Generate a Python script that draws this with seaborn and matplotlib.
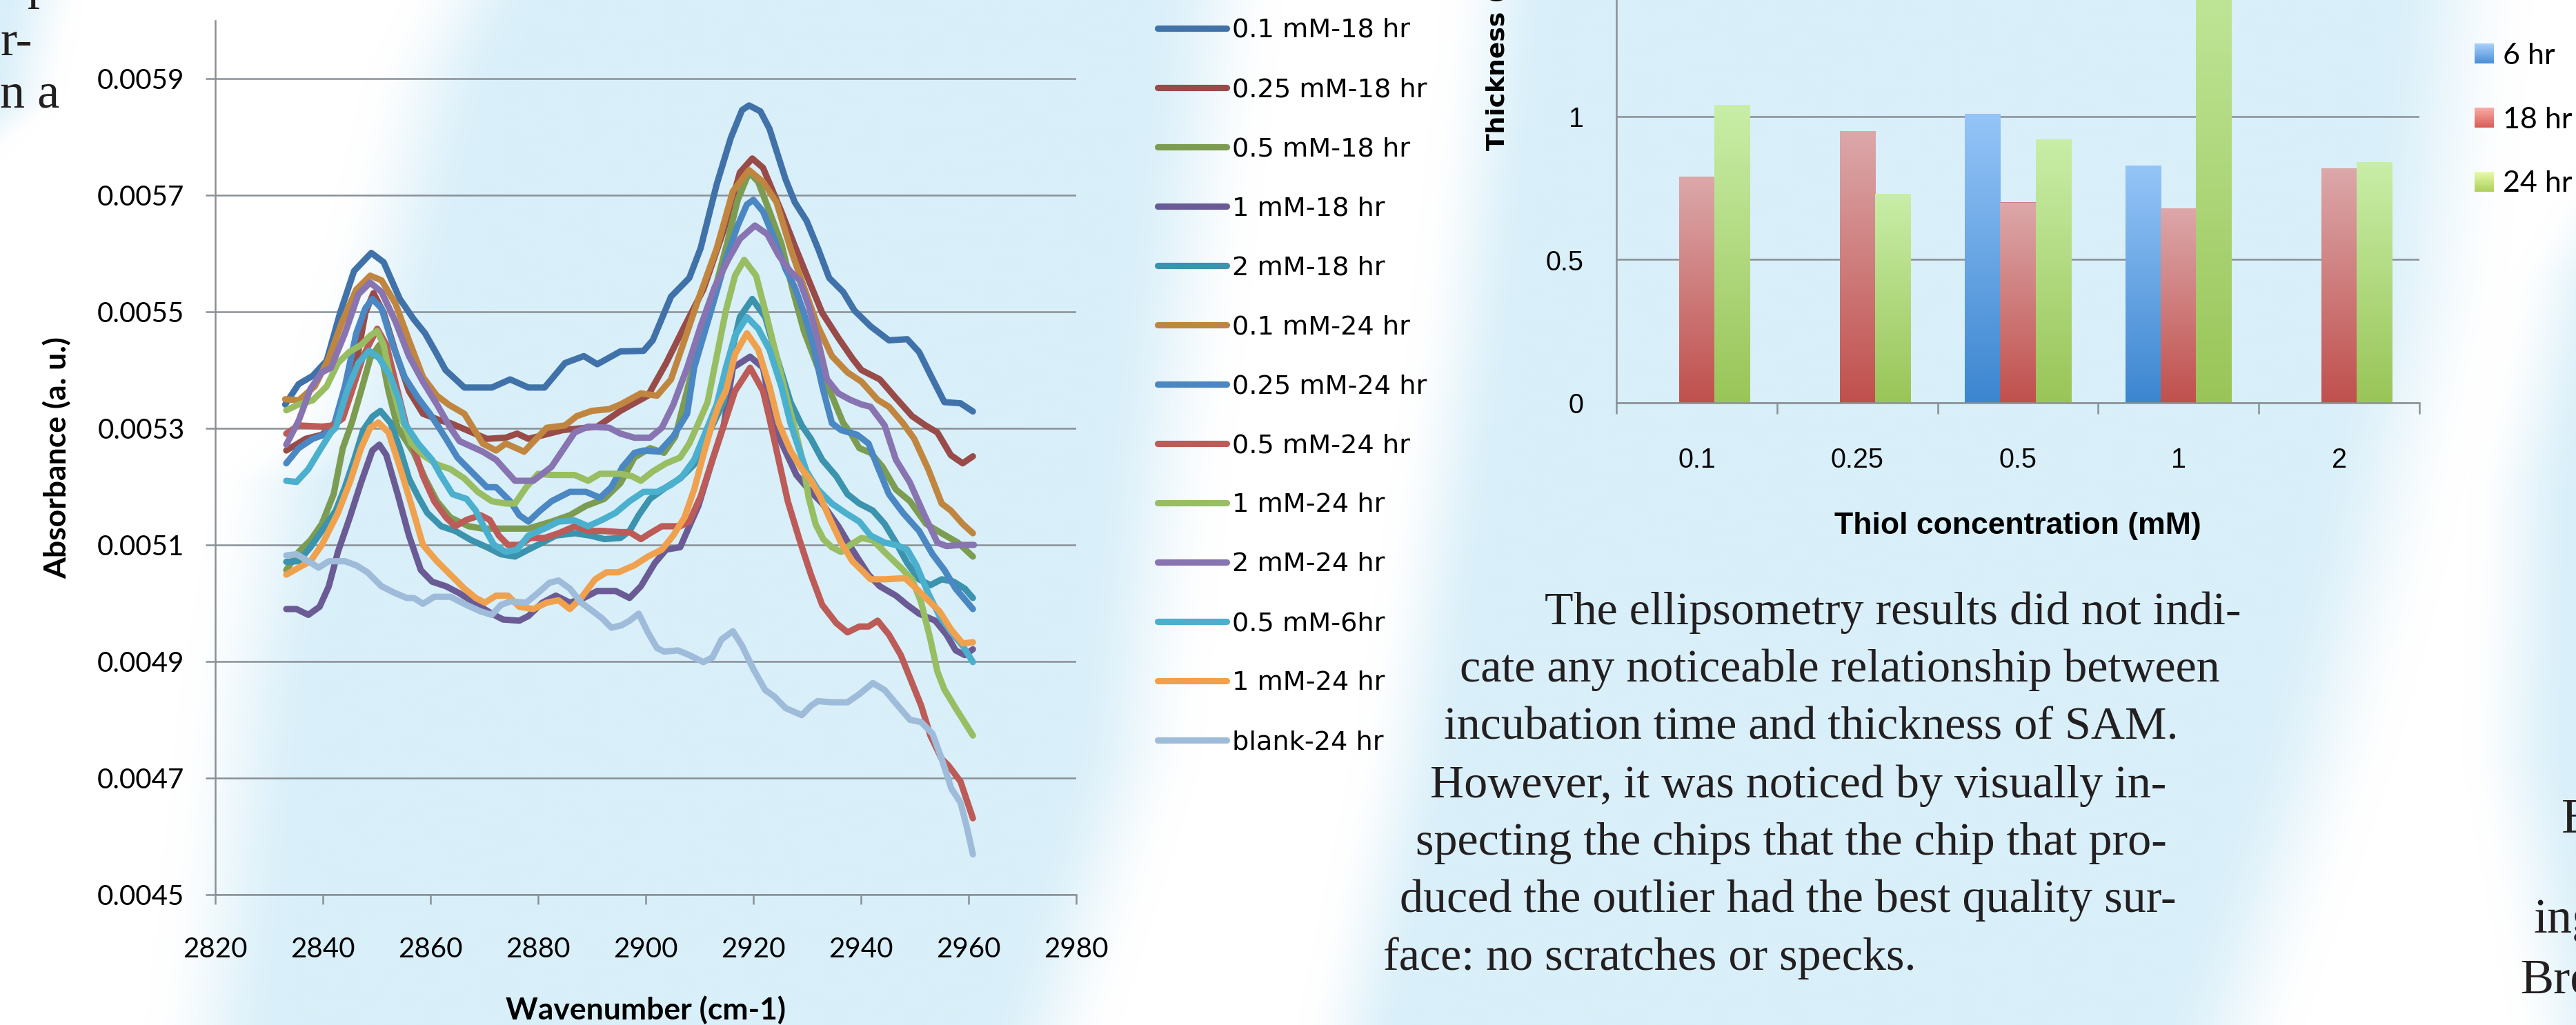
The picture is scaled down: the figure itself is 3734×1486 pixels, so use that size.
import numpy as np
import pandas as pd
import matplotlib
matplotlib.use("Agg")
import matplotlib.pyplot as plt
import seaborn as sns
from matplotlib import font_manager
from matplotlib.patches import Rectangle, Patch
from matplotlib.legend_handler import HandlerBase


def has_font(name):
    try:
        font_manager.findfont(font_manager.FontProperties(family=name), fallback_to_default=False)
        return True
    except Exception:
        return False


NARROW = "Liberation Sans Narrow" if has_font("Liberation Sans Narrow") else "Liberation Sans"
NARROW_SCALE = 1.0 if NARROW == "Liberation Sans Narrow" else 0.89
SANS = "Lato" if has_font("Lato") else "DejaVu Sans"

# ---------------- IR spectra (absorbance in units of 1e-4) ----------------
labels = ["0.1 mM-18 hr", "0.25 mM-18 hr", "0.5 mM-18 hr", "1 mM-18 hr", "2 mM-18 hr",
          "0.1 mM-24 hr", "0.25 mM-24 hr", "0.5 mM-24 hr", "1 mM-24 hr", "2 mM-24 hr",
          "0.5 mM-6hr", "1 mM-24 hr", "blank-24 hr"]
line_colors = ["#4072A9", "#984B48", "#7C9C52", "#6A5B95", "#3B93AE", "#C08640", "#4A87C3",
               "#BC5B57", "#98BD62", "#8774B0", "#4BAFCE", "#EFA14E", "#9FBBDA"]

wn_01_18 = [2833.0, 2835.5, 2838.1, 2840.7, 2843.2, 2845.8, 2849.0, 2851.3, 2854.3, 2856.9, 2859.0, 2861.2,
            2862.8, 2866.3, 2871.4, 2874.8, 2878.2, 2881.2, 2885.0, 2888.5, 2891.0, 2895.3, 2899.6, 2901.3,
            2904.7, 2908.1, 2910.2, 2913.2, 2915.8, 2917.9, 2919.2, 2921.3, 2923.0, 2926.0, 2927.7, 2929.9,
            2932.0, 2934.1, 2936.7, 2938.8, 2941.8, 2945.2, 2948.6, 2950.8, 2952.9, 2955.5, 2958.5, 2960.8]
ab_01_18 = [53.41, 53.76, 53.90, 54.16, 54.98, 55.70, 56.01, 55.85, 55.22, 54.87, 54.63, 54.27,
            54.00, 53.70, 53.70, 53.84, 53.70, 53.70, 54.12, 54.24, 54.10, 54.32, 54.33, 54.51,
            55.26, 55.58, 56.09, 57.19, 57.98, 58.46, 58.54, 58.44, 58.14, 57.27, 56.88, 56.56,
            56.09, 55.58, 55.34, 55.02, 54.75, 54.51, 54.53, 54.31, 53.92, 53.45, 53.43, 53.29]

wn_025_18 = [2833.2, 2836.8, 2839.8, 2842.8, 2844.1, 2846.2, 2847.9, 2849.4, 2851.3, 2853.5, 2856.0, 2858.6,
             2862.0, 2863.7, 2870.5, 2874.0, 2876.1, 2878.2, 2884.6, 2891.0, 2895.3, 2900.4, 2903.8, 2907.2,
             2910.7, 2914.5, 2917.5, 2919.8, 2921.8, 2925.2, 2927.7, 2930.3, 2932.8, 2935.8, 2938.4, 2940.1,
             2943.5, 2946.5, 2949.5, 2952.0, 2954.2, 2956.7, 2958.9, 2960.8]
ab_025_18 = [52.62, 52.82, 52.89, 53.13, 53.30, 54.12, 54.98, 55.32, 54.98, 54.31, 53.64, 53.25,
             53.13, 53.09, 52.82, 52.84, 52.91, 52.82, 52.97, 53.03, 53.30, 53.56, 54.12, 54.75,
             55.38, 56.40, 57.39, 57.63, 57.47, 56.72, 56.13, 55.54, 54.98, 54.55, 54.20, 54.00,
             53.84, 53.52, 53.21, 53.05, 52.93, 52.54, 52.40, 52.52]

wn_05_18 = [2833.2, 2835.5, 2837.7, 2839.8, 2842.0, 2843.7, 2845.4, 2847.1, 2848.8, 2850.5, 2852.2, 2853.9,
            2856.9, 2859.0, 2861.2, 2863.7, 2867.1, 2869.7, 2874.0, 2878.2, 2882.5, 2885.9, 2888.9, 2892.3,
            2895.3, 2897.9, 2900.8, 2903.4, 2905.5, 2909.0, 2912.4, 2915.0, 2917.1, 2919.2, 2920.9, 2923.0,
            2925.2, 2927.3, 2929.4, 2932.0, 2934.6, 2936.7, 2938.0, 2939.7, 2941.8, 2944.0, 2946.5, 2949.1,
            2952.1, 2955.0, 2958.0, 2960.8]
ab_05_18 = [50.57, 50.88, 51.08, 51.36, 51.87, 52.66, 53.10, 53.64, 54.20, 54.43, 53.64, 53.01,
            52.58, 52.14, 51.75, 51.47, 51.32, 51.28, 51.28, 51.28, 51.40, 51.51, 51.67, 51.79,
            52.06, 52.50, 52.66, 52.58, 52.86, 54.12, 55.22, 56.13, 56.92, 57.39, 57.23, 56.72,
            56.17, 55.38, 54.67, 54.04, 53.56, 53.09, 52.93, 52.66, 52.58, 52.34, 51.95, 51.75,
            51.36, 51.20, 51.04, 50.80]

wn_1_18 = [2833.2, 2835.1, 2837.3, 2839.4, 2841.1, 2842.8, 2845.0, 2847.1, 2849.2, 2850.5, 2851.8, 2853.9,
           2856.0, 2858.2, 2860.3, 2862.9, 2865.4, 2868.8, 2871.4, 2873.5, 2876.5, 2878.2, 2880.8, 2883.3,
           2885.9, 2888.5, 2891.0, 2894.4, 2897.0, 2899.1, 2901.7, 2903.8, 2906.4, 2908.1, 2909.8, 2912.4,
           2914.5, 2916.2, 2919.4, 2921.8, 2923.9, 2926.0, 2928.0, 2930.3, 2932.8, 2935.8, 2938.4, 2941.4,
           2943.5, 2946.5, 2948.6, 2950.8, 2953.8, 2955.9, 2957.6, 2959.3, 2960.8]
ab_1_18 = [49.90, 49.90, 49.80, 49.94, 50.29, 50.88, 51.47, 52.07, 52.62, 52.72, 52.54, 51.87,
           51.16, 50.57, 50.37, 50.29, 50.17, 49.97, 49.82, 49.72, 49.70, 49.78, 50.01, 50.13,
           50.01, 50.09, 50.21, 50.21, 50.09, 50.29, 50.69, 50.92, 50.96, 51.32, 51.67, 52.46,
           53.05, 54.04, 54.23, 54.04, 53.01, 52.60, 52.20, 51.95, 51.71, 51.32, 50.92, 50.49,
           50.29, 50.13, 49.97, 49.82, 49.70, 49.46, 49.19, 49.11, 49.21]

wn_2_18 = [2833.2, 2835.5, 2837.7, 2839.8, 2842.4, 2844.1, 2845.8, 2847.5, 2849.2, 2850.7, 2852.6, 2854.3,
           2856.0, 2857.7, 2859.4, 2862.0, 2864.6, 2867.6, 2870.5, 2873.1, 2875.7, 2878.2, 2880.8, 2883.3,
           2886.8, 2889.7, 2892.3, 2895.3, 2897.0, 2898.7, 2900.8, 2903.8, 2906.4, 2909.0, 2910.7, 2912.4,
           2914.5, 2915.8, 2917.5, 2919.8, 2922.2, 2924.3, 2926.9, 2929.0, 2930.7, 2932.8, 2935.4, 2937.5,
           2939.7, 2942.2, 2944.4, 2946.5, 2948.6, 2950.8, 2952.9, 2955.0, 2957.2, 2959.3, 2960.8]
ab_2_18 = [50.71, 50.72, 50.96, 51.24, 51.59, 51.99, 52.46, 52.97, 53.20, 53.30, 53.09, 52.66,
           52.14, 51.83, 51.55, 51.32, 51.24, 51.08, 50.96, 50.84, 50.80, 50.92, 51.04, 51.16,
           51.20, 51.16, 51.10, 51.12, 51.24, 51.51, 51.79, 51.99, 52.14, 52.38, 52.70, 53.05,
           53.45, 54.24, 54.91, 55.22, 54.91, 54.24, 53.45, 53.05, 52.82, 52.46, 52.18, 51.87,
           51.71, 51.59, 51.36, 51.04, 50.69, 50.41, 50.31, 50.41, 50.37, 50.25, 50.09]

wn_01_24 = [2833.0, 2835.5, 2838.5, 2841.1, 2843.6, 2846.2, 2848.8, 2850.9, 2853.5, 2856.0, 2858.6, 2861.2,
            2863.5, 2866.3, 2869.7, 2872.2, 2874.0, 2877.4, 2881.6, 2885.0, 2887.2, 2890.0, 2893.2, 2895.3,
            2899.1, 2902.1, 2904.7, 2907.2, 2909.8, 2913.2, 2916.2, 2919.2, 2921.8, 2924.3, 2926.9, 2929.4,
            2932.0, 2934.6, 2937.5, 2940.1, 2943.1, 2945.2, 2947.8, 2949.9, 2952.5, 2955.0, 2956.7, 2958.9,
            2960.8]
ab_01_24 = [53.50, 53.48, 53.72, 54.20, 54.83, 55.38, 55.62, 55.54, 55.14, 54.51, 53.88, 53.56,
            53.40, 53.25, 52.74, 52.62, 52.74, 52.60, 53.01, 53.05, 53.21, 53.30, 53.33, 53.41,
            53.60, 53.56, 53.84, 54.51, 55.22, 56.09, 57.07, 57.43, 57.23, 56.88, 56.09, 55.42,
            54.75, 54.24, 53.96, 53.80, 53.49, 53.37, 53.09, 52.82, 52.30, 51.71, 51.59, 51.36,
            51.20]

wn_025_24 = [2833.2, 2835.5, 2838.1, 2840.2, 2842.2, 2844.1, 2846.2, 2847.9, 2849.2, 2850.9, 2853.0, 2855.2,
             2857.7, 2859.9, 2861.6, 2862.9, 2865.0, 2868.0, 2870.5, 2872.2, 2874.8, 2876.5, 2878.2, 2880.4,
             2882.5, 2885.9, 2888.9, 2891.5, 2893.6, 2895.7, 2897.9, 2899.6, 2902.5, 2905.1, 2907.7, 2909.0,
             2912.4, 2915.0, 2917.1, 2918.8, 2920.0, 2921.8, 2923.9, 2926.0, 2927.7, 2929.4, 2931.1, 2932.8,
             2934.6, 2936.3, 2939.3, 2941.4, 2943.1, 2945.2, 2947.8, 2950.8, 2953.3, 2955.5, 2957.6, 2960.8]
ab_025_24 = [52.40, 52.66, 52.82, 52.89, 53.10, 53.72, 54.63, 55.06, 55.22, 55.06, 54.43, 53.88,
             53.52, 53.25, 53.01, 52.82, 52.50, 52.22, 51.99, 51.99, 51.75, 51.51, 51.40, 51.59,
             51.75, 51.91, 51.91, 51.81, 51.99, 52.34, 52.58, 52.62, 52.60, 52.86, 53.25, 54.04,
             55.10, 55.93, 56.48, 56.84, 56.92, 56.72, 56.25, 55.73, 55.42, 54.98, 54.43, 53.72,
             53.09, 52.97, 52.89, 52.74, 52.34, 51.87, 51.55, 51.24, 50.84, 50.57, 50.25, 49.90]

wn_05_24 = [2833.2, 2835.5, 2839.8, 2842.0, 2843.7, 2845.4, 2847.5, 2850.1, 2851.8, 2853.9, 2855.6, 2856.9,
            2858.6, 2860.7, 2862.9, 2864.6, 2866.7, 2869.3, 2871.0, 2872.7, 2874.4, 2876.5, 2878.6, 2881.2,
            2883.8, 2886.8, 2889.3, 2891.9, 2895.3, 2897.0, 2899.1, 2900.8, 2903.0, 2906.4, 2908.1, 2910.2,
            2912.4, 2914.5, 2916.6, 2919.4, 2921.8, 2923.0, 2924.7, 2926.4, 2928.6, 2930.7, 2932.8, 2935.4,
            2937.5, 2939.7, 2941.4, 2943.1, 2945.2, 2947.4, 2949.5, 2951.2, 2952.9, 2955.0, 2956.3, 2958.5,
            2960.8]
ab_05_24 = [52.91, 53.05, 53.03, 53.05, 53.17, 53.64, 54.24, 54.71, 54.43, 53.64, 53.01, 52.66,
            52.18, 51.75, 51.47, 51.32, 51.43, 51.51, 51.43, 51.16, 51.00, 51.00, 51.12, 51.12,
            51.20, 51.32, 51.24, 51.24, 51.22, 51.22, 51.10, 51.20, 51.32, 51.32, 51.40, 51.83,
            52.46, 53.05, 53.64, 54.04, 53.64, 53.17, 52.46, 51.75, 51.08, 50.49, 49.97, 49.66,
            49.50, 49.60, 49.60, 49.70, 49.46, 49.11, 48.63, 48.24, 47.73, 47.33, 47.21, 46.94,
            46.31]

wn_1_24a = [2833.2, 2835.5, 2838.1, 2840.7, 2842.8, 2844.9, 2847.1, 2848.8, 2850.1, 2851.3, 2852.6, 2854.3,
            2856.5, 2858.6, 2861.2, 2863.7, 2866.3, 2868.8, 2871.4, 2874.0, 2875.7, 2877.8, 2880.0, 2882.5,
            2886.8, 2889.3, 2891.5, 2895.3, 2897.4, 2899.1, 2901.3, 2903.8, 2906.4, 2908.1, 2909.8, 2911.5,
            2913.2, 2914.9, 2916.6, 2918.3, 2920.5, 2922.2, 2924.3, 2926.4, 2927.7, 2929.0, 2930.3, 2931.6,
            2933.0, 2934.6, 2936.3, 2938.0, 2940.1, 2942.2, 2944.8, 2947.4, 2949.5, 2951.2, 2952.9, 2954.2,
            2955.5, 2957.6, 2960.8]
ab_1_24a = [53.31, 53.41, 53.48, 53.72, 54.12, 54.31, 54.43, 54.59, 54.67, 54.43, 53.84, 53.25,
            52.74, 52.54, 52.38, 52.30, 52.14, 51.91, 51.75, 51.71, 51.71, 51.99, 52.22, 52.20,
            52.20, 52.10, 52.22, 52.22, 52.18, 52.10, 52.26, 52.40, 52.50, 52.74, 53.09, 53.45,
            54.24, 55.02, 55.62, 55.89, 55.62, 55.02, 54.24, 53.45, 53.01, 52.50, 51.80, 51.35,
            51.10, 50.96, 50.88, 51.00, 51.12, 51.08, 50.84, 50.61, 50.41, 50.01, 49.38, 48.83,
            48.52, 48.20, 47.73]

wn_2_24 = [2833.2, 2835.5, 2837.7, 2839.8, 2841.5, 2844.1, 2846.6, 2848.8, 2850.9, 2853.5, 2856.0, 2858.6,
           2861.2, 2863.7, 2865.4, 2869.7, 2872.2, 2875.7, 2879.1, 2882.5, 2886.8, 2889.3, 2893.2, 2895.3,
           2897.9, 2900.8, 2903.0, 2905.1, 2907.7, 2910.2, 2912.8, 2915.3, 2917.5, 2920.3, 2922.6, 2924.7,
           2926.9, 2928.6, 2930.3, 2932.0, 2933.7, 2935.8, 2938.0, 2940.1, 2941.8, 2944.4, 2946.5, 2949.1,
           2951.6, 2954.2, 2955.9, 2958.5, 2961.0]
ab_2_24 = [52.72, 53.13, 53.68, 53.96, 54.04, 54.63, 55.30, 55.50, 55.34, 54.83, 54.24, 53.80,
           53.41, 53.01, 52.78, 52.60, 52.46, 52.10, 52.10, 52.34, 52.93, 53.03, 53.01, 52.91,
           52.84, 52.84, 53.01, 53.40, 54.04, 54.75, 55.42, 55.89, 56.25, 56.48, 56.33, 55.97,
           55.69, 55.54, 55.10, 54.51, 53.84, 53.60, 53.49, 53.41, 53.37, 53.05, 52.46, 52.07,
           51.55, 51.04, 50.98, 51.00, 51.00]

wn_05_6 = [2833.2, 2835.1, 2837.3, 2839.4, 2841.5, 2842.4, 2844.5, 2846.6, 2848.6, 2850.5, 2852.6, 2854.3,
           2855.2, 2857.7, 2860.3, 2862.0, 2864.1, 2866.7, 2868.4, 2870.1, 2871.8, 2874.0, 2876.1, 2878.2,
           2881.2, 2883.8, 2886.8, 2889.3, 2891.9, 2894.4, 2897.0, 2899.6, 2902.1, 2904.7, 2906.8, 2909.0,
           2911.1, 2913.2, 2914.9, 2916.6, 2918.8, 2920.9, 2923.0, 2925.2, 2926.9, 2927.7, 2929.9, 2932.0,
           2934.6, 2937.1, 2939.7, 2941.8, 2944.4, 2946.5, 2948.6, 2950.3, 2952.5, 2954.6, 2956.8, 2958.9,
           2960.8]
ab_05_6 = [52.10, 52.08, 52.30, 52.62, 52.93, 53.01, 53.64, 54.12, 54.33, 54.20, 53.88, 53.45,
           53.09, 52.74, 52.46, 52.18, 51.87, 51.79, 51.59, 51.28, 51.00, 50.88, 50.92, 51.16,
           51.28, 51.40, 51.42, 51.32, 51.43, 51.55, 51.75, 51.91, 51.91, 52.03, 52.18, 52.46,
           52.93, 53.41, 54.04, 54.59, 54.91, 54.71, 54.35, 53.72, 53.09, 52.86, 52.26, 51.95,
           51.71, 51.55, 51.40, 51.16, 51.04, 51.00, 50.92, 50.65, 50.17, 49.78, 49.50, 49.27,
           48.99]

wn_1_24b = [2833.2, 2835.5, 2837.7, 2839.8, 2842.8, 2845.0, 2847.1, 2848.8, 2850.3, 2852.2, 2854.3, 2856.5,
            2858.6, 2861.2, 2863.7, 2866.3, 2868.4, 2870.1, 2872.2, 2874.4, 2876.5, 2879.1, 2881.6, 2883.8,
            2885.9, 2888.0, 2890.6, 2892.7, 2894.9, 2897.9, 2900.4, 2903.0, 2905.1, 2907.2, 2909.0, 2910.7,
            2912.4, 2913.6, 2914.9, 2916.6, 2918.8, 2920.9, 2923.0, 2924.7, 2926.9, 2929.0, 2930.7, 2932.4,
            2934.1, 2936.3, 2938.4, 2940.1, 2941.8, 2944.4, 2948.2, 2950.3, 2952.5, 2954.6, 2956.8, 2958.9,
            2960.8]
ab_1_24b = [50.49, 50.61, 50.72, 51.00, 51.55, 52.07, 52.66, 53.01, 53.10, 52.93, 52.34, 51.67,
            51.00, 50.72, 50.49, 50.25, 50.09, 50.01, 50.13, 50.13, 49.94, 49.90, 50.01, 50.05,
            49.90, 50.09, 50.41, 50.53, 50.53, 50.65, 50.80, 50.92, 51.16, 51.47, 51.95, 52.54,
            53.09, 53.40, 53.64, 54.27, 54.63, 54.35, 53.72, 53.09, 52.62, 52.30, 52.11, 51.83,
            51.47, 51.04, 50.72, 50.57, 50.41, 50.41, 50.43, 50.25, 50.05, 49.86, 49.54, 49.31,
            49.33]

wn_blank = [2833.2, 2835.1, 2837.3, 2839.2, 2841.1, 2844.1, 2846.2, 2848.3, 2850.9, 2853.5, 2855.6, 2856.9,
            2858.6, 2860.7, 2863.7, 2866.7, 2869.3, 2871.4, 2873.1, 2874.8, 2877.8, 2879.9, 2882.1, 2883.8,
            2885.9, 2888.0, 2890.2, 2891.9, 2893.6, 2895.5, 2897.0, 2898.7, 2900.4, 2902.1, 2903.4, 2906.0,
            2908.1, 2910.7, 2912.4, 2914.1, 2916.2, 2917.9, 2920.0, 2922.2, 2923.9, 2926.0, 2929.0, 2930.7,
            2932.0, 2934.6, 2937.5, 2939.7, 2942.2, 2944.4, 2946.5, 2949.1, 2951.2, 2953.3, 2955.0, 2956.8,
            2958.5, 2959.7, 2960.8]
ab_blank = [50.82, 50.84, 50.72, 50.61, 50.72, 50.72, 50.65, 50.53, 50.29, 50.17, 50.09, 50.09,
            49.99, 50.11, 50.11, 49.97, 49.86, 49.80, 49.97, 50.03, 50.01, 50.17, 50.35, 50.39,
            50.25, 50.01, 49.86, 49.74, 49.58, 49.62, 49.70, 49.82, 49.50, 49.23, 49.17, 49.19,
            49.11, 48.99, 49.07, 49.38, 49.52, 49.27, 48.87, 48.51, 48.40, 48.20, 48.08, 48.24,
            48.32, 48.30, 48.30, 48.44, 48.63, 48.51, 48.28, 48.00, 47.96, 47.76, 47.33, 46.82,
            46.58, 46.15, 45.69]

spectra_wn = [wn_01_18, wn_025_18, wn_05_18, wn_1_18, wn_2_18, wn_01_24, wn_025_24,
              wn_05_24, wn_1_24a, wn_2_24, wn_05_6, wn_1_24b, wn_blank]
spectra_ab = [ab_01_18, ab_025_18, ab_05_18, ab_1_18, ab_2_18, ab_01_24, ab_025_24,
              ab_05_24, ab_1_24a, ab_2_24, ab_05_6, ab_1_24b, ab_blank]

# ---------------- ellipsometry thickness ----------------
conc_labels = ["0.1", "0.25", "0.5", "1", "2"]
time_labels = ["6 hr", "18 hr", "24 hr"]
thick_6hr = [np.nan, np.nan, 1.01, 0.83, np.nan]
thick_18hr = [0.79, 0.95, 0.70, 0.68, 0.82]
thick_24hr = [1.04, 0.73, 0.92, 1.80, 0.84]

paragraph = ["The ellipsometry results did not indi-",
             "cate any noticeable relationship between",
             "incubation time and thickness of SAM.",
             "However, it was noticed by visually in-",
             "specting the chips that the chip that pro-",
             "duced the outlier had the best quality sur-",
             "face: no scratches or specks."]

W, H = 3734, 1486
GRID = "#899096"
fig = plt.figure(figsize=(W / 100, H / 100), dpi=100)

# ---------------- poster background ----------------
yy, xx = np.mgrid[0:H:4, 0:W:4].astype(float)


def smooth(t):
    t = np.clip(t, 0, 1)
    return t * t * (3 - 2 * t)


def band(ysl, ls, sl, ysr, rs, sr):
    left = np.interp(yy, ysl, ls)
    right = np.interp(yy, ysr, rs)
    return smooth((xx - left) / sl + 0.5) * smooth((right - xx) / sr + 0.5)


wgt = np.maximum.reduce([
    band([0, 100, 620, 700, 1000, 1400, 1486], [680, 630, 500, 410, 360, 320, 310], 200,
         [0, 700, 1100, 1486], [1760, 1680, 1640, 1520], 200),
    band([0, 500, 800, 1100, 1486], [2170, 2120, 2080, 2040, 1960], 160,
         [0, 434, 800, 1100, 1486], [3560, 3520, 3440, 3360, 3230], 220),
    band([0, 400, 700, 1100, 1486], [3950, 3720, 3660, 3650, 3720], 160,
         [0, 1486], [6000, 6000], 10),
    band([0, 1486], [-2000, -2000], 10, [0, 150, 300], [60, 30, -150], 120),
])
blue = np.array([217, 239, 249]) / 255.0
bg = 1 - wgt[..., None] * (1 - blue)
bgax = fig.add_axes([0, 0, 1, 1], zorder=-10)
bgax.imshow(bg, extent=[0, W, H, 0], aspect="auto", interpolation="bilinear")
bgax.set_xlim(0, W)
bgax.set_ylim(H, 0)
bgax.axis("off")

# ---------------- left: IR spectra ----------------
ax1 = fig.add_axes([312 / W, 1 - 1297 / H, 1248 / W, 1267.5 / H])
ax1.patch.set_alpha(0)
for wn, ab, col in zip(spectra_wn, spectra_ab, line_colors):
    sns.lineplot(x=wn, y=np.array(ab) * 1e-4, ax=ax1, color=col, linewidth=6.6,
                 estimator=None, sort=False, legend=False,
                 solid_capstyle="round", solid_joinstyle="round")

ax1.set_xlim(2820, 2980)
ax1.set_ylim(0.0045, 0.0060)
ax1.set_xticks(range(2820, 2981, 20))
yt = np.arange(0.0045, 0.00591, 0.0002)
ax1.set_yticks(yt)
ax1.set_yticklabels([f"{v:.4f}" for v in yt])
ax1.set_axisbelow(True)
ax1.grid(axis="y", color=GRID, linewidth=1.8)
for s in ["top", "right"]:
    ax1.spines[s].set_visible(False)
for s in ["left", "bottom"]:
    ax1.spines[s].set_color(GRID)
    ax1.spines[s].set_linewidth(1.8)
ax1.tick_params(axis="both", direction="out", length=10, width=1.8, color=GRID, labelsize=29)
ax1.tick_params(axis="x", pad=34)
ax1.tick_params(axis="y", pad=22)
for t in ax1.get_xticklabels() + ax1.get_yticklabels():
    t.set_family(SANS)
ax1.set_xlabel("Wavenumber (cm-1)", family=SANS, fontsize=32, fontweight="bold")
ax1.set_ylabel("Absorbance (a. u.)", family=SANS, fontsize=32, fontweight="bold")
ax1.xaxis.set_label_coords(0.5, -0.1318)
ax1.xaxis.label.set_va("center")
ax1.yaxis.set_label_coords(-0.1843, 0.5)
ax1.yaxis.label.set_va("center")

fig.legend(ax1.get_lines()[:len(labels)], labels, loc="upper left",
           bbox_to_anchor=(1678 / W, 1 - 26 / H), frameon=False, borderpad=0, borderaxespad=0,
           handlelength=2.63, handletextpad=0.2, labelspacing=1.31,
           prop={"family": "DejaVu Sans", "size": 27.5})

# ---------------- right: thickness bars ----------------
bar_df = pd.DataFrame({
    "conc": conc_labels * 3,
    "time": [t for t in time_labels for _ in conc_labels],
    "thickness": thick_6hr + thick_18hr + thick_24hr,
})
ax2 = fig.add_axes([2343 / W, 1 - 584 / H, 1164 / W, 1037.5 / H])
ax2.patch.set_alpha(0)
bar_mid = {"6 hr": "#6AA6E6", "18 hr": "#CE7F7D", "24 hr": "#B3DA82"}
sns.barplot(data=bar_df, x="conc", y="thickness", hue="time", order=conc_labels,
            hue_order=time_labels, palette=bar_mid, width=0.66, gap=0, saturation=1,
            errorbar=None, legend=False, ax=ax2)

bar_grad = {"6 hr": ("#95C5F8", "#3C86D0"), "18 hr": ("#DCA8AA", "#C0504D"),
            "24 hr": ("#C8EEA7", "#99C558")}
tt = np.linspace(0, 1, 200)[:, None, None]
for cont, tl in zip(ax2.containers, time_labels):
    top = np.array(matplotlib.colors.to_rgb(bar_grad[tl][0]))
    bot = np.array(matplotlib.colors.to_rgb(bar_grad[tl][1]))
    img = top * (1 - tt) + bot * tt
    for bar in cont:
        h = bar.get_height()
        if not np.isfinite(h) or h <= 0:
            continue
        x0 = bar.get_x()
        im = ax2.imshow(img, extent=[x0, x0 + bar.get_width(), 0, h], origin="upper",
                        aspect="auto", interpolation="bilinear", zorder=bar.get_zorder() + 0.1)
        im.set_clip_path(bar)

ax2.set_xlim(-0.5, 4.5)
ax2.set_ylim(0, 2.5)
ax2.set_yticks(np.arange(0, 2.51, 0.5))
ax2.set_yticklabels([f"{v:g}" for v in np.arange(0, 2.51, 0.5)])
ax2.set_xticks(np.arange(-0.5, 4.6, 1), minor=True)
ax2.set_axisbelow(True)
ax2.grid(axis="y", color=GRID, linewidth=1.8)
ax2.grid(axis="x", visible=False)
for s in ["top", "right"]:
    ax2.spines[s].set_visible(False)
for s in ["left", "bottom"]:
    ax2.spines[s].set_color(GRID)
    ax2.spines[s].set_linewidth(1.8)
ax2.tick_params(axis="x", which="major", length=0, pad=46, labelsize=32 * NARROW_SCALE)
ax2.tick_params(axis="x", which="minor", length=11.5, width=1.8, color=GRID, direction="out")
ax2.tick_params(axis="y", length=0, pad=34, labelsize=32 * NARROW_SCALE)
for t in ax2.get_xticklabels() + ax2.get_yticklabels():
    t.set_family(NARROW)
ax2.set_xlabel("Thiol concentration (mM)", family=NARROW, fontsize=36 * NARROW_SCALE,
               fontweight="bold")
ax2.set_ylabel("")
ax2.xaxis.set_label_coords(0.5, -(763 - 584) / 1037.5)
ax2.xaxis.label.set_va("center")
fig.text(2171 / W, 1 - 218 / H, "Thickness (nm)", rotation=90, ha="center", va="bottom",
         family="DejaVu Sans", fontweight="bold", fontsize=26)


class GradSquare(HandlerBase):
    def __init__(self, top, bottom):
        super().__init__()
        self.top = np.array(matplotlib.colors.to_rgb(top))
        self.bottom = np.array(matplotlib.colors.to_rgb(bottom))

    def create_artists(self, legend, orig_handle, xdescent, ydescent, width, height, fontsize, trans):
        n = 16
        arts = []
        for i in range(n):
            f = i / (n - 1)
            col = self.top * (1 - f) + self.bottom * f
            y = -ydescent + height * (1 - (i + 1) / n)
            arts.append(Rectangle((-xdescent, y), width, height / n * 1.05, facecolor=col,
                                  edgecolor="none", transform=trans))
        return arts


leg_grad = [("#A6CEF8", "#4A8FD8"), ("#F8AAA5", "#D95F58"), ("#E6F9AA", "#AED15D")]
leg_handles = [Patch() for _ in time_labels]
fig.legend(leg_handles, time_labels, loc="upper left", bbox_to_anchor=(3587 / W, 1 - 62 / H),
           handler_map={hd: GradSquare(*g) for hd, g in zip(leg_handles, leg_grad)},
           frameon=False, borderpad=0, borderaxespad=0, handlelength=0.65, handleheight=0.65,
           handletextpad=0.3, labelspacing=1.27, prop={"family": SANS, "size": 31})

# ---------------- poster text ----------------
para_x = [2239, 2116, 2093, 2073, 2052, 2029, 2005]
for i, (line, px) in enumerate(zip(paragraph, para_x)):
    fig.text(px / W, 1 - (905 + 83.5 * i) / H, line, family="Liberation Serif", fontsize=49,
             color="#231F20", ha="left", va="baseline")

for txt, px, py in [("p", 40, -2), ("r-", 0, 80), ("n a", 0, 156),
                    ("E", 3713, 1207), ("ing", 3672, 1352), ("Bre", 3654, 1439)]:
    fig.text(px / W, 1 - py / H, txt, family="Liberation Serif", fontsize=52,
             color="#231F20", ha="left", va="baseline")

fig.savefig("out.png", dpi=100)
